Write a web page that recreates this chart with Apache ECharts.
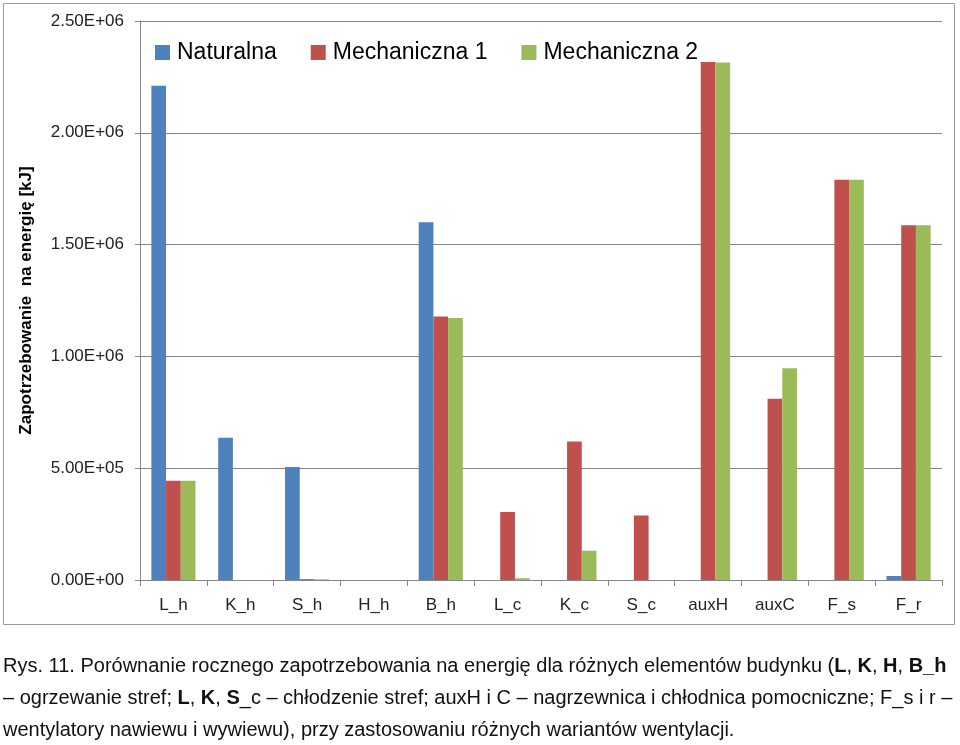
<!DOCTYPE html>
<html><head><meta charset="utf-8">
<script src="https://cdn.jsdelivr.net/npm/echarts@6/dist/echarts.min.js"></script>
<style>html,body{margin:0;padding:0;background:#fff}#c{width:960px;height:745px}</style>
</head><body><div id="c"></div>
<script>
const categories = ['L_h','K_h','S_h','H_h','B_h','L_c','K_c','S_c','auxH','auxC','F_s','F_r'];
const naturalna   = [2210000, 636000, 505000, 0, 1600000, 0, 0, 0, 0, 0, 0, 18000];
const mechaniczna1 = [444000, 0, 4000, 0, 1178000, 304000, 619000, 288000, 2317000, 811000, 1790000, 1586000];
const mechaniczna2 = [444000, 0, 3000, 0, 1172000, 8000, 131000, 0, 2314000, 947000, 1790000, 1586000];
const seriesNames = ['Naturalna','Mechaniczna 1','Mechaniczna 2'];
const yTicks = {min: 0, max: 2500000, interval: 500000};
const yTitle = 'Zapotrzebowanie  na energię [kJ]';

const FONT = '"Liberation Sans Narrow","Liberation Sans",Arial,sans-serif';
const colors = ['#4F81BD','#C0504D','#9BBB59'];
function fmt(v){
  const s = Number(v).toExponential(2).toUpperCase();
  const m = s.match(/^(.*)E([+-])(\d+)$/);
  return m[1] + 'E' + m[2] + (m[3].length < 2 ? '0' + m[3] : m[3]);
}
const chart = echarts.init(document.getElementById('c'));
const series = [naturalna, mechaniczna1, mechaniczna2].map((d,i)=>({
  name: seriesNames[i], type: 'bar', data: d, barGap: '0%', barCategoryGap: '34%',
  itemStyle: {color: colors[i]}
}));
chart.setOption({
  animation: false,
  color: colors,
  textStyle: {fontFamily: FONT},
  grid: {left: 140, right: 18, top: 21, bottom: 165},
  legend: {
    left: 150, top: 36, itemWidth: 15, itemHeight: 15, itemGap: 34,
    icon: 'rect',
    textStyle: {fontSize: 23, color: '#000', fontFamily: FONT, padding: [0,0,0,2]},
    data: seriesNames
  },
  xAxis: {
    type: 'category', data: categories,
    axisLine: {lineStyle: {color: '#868686', width: 1}},
    axisTick: {show: true, length: 6, lineStyle: {color: '#868686'}},
    axisLabel: {fontSize: 17, color: '#222', margin: 17, fontFamily: FONT}
  },
  yAxis: {
    type: 'value', min: yTicks.min, max: yTicks.max, interval: yTicks.interval,
    name: yTitle, nameLocation: 'middle', nameGap: 105, nameRotate: 90,
    nameTextStyle: {fontSize: 17, fontWeight: 'bold', color: '#000', fontFamily: FONT},
    axisLine: {show: true, lineStyle: {color: '#868686'}},
    axisTick: {show: true, length: 5, lineStyle: {color: '#868686'}},
    splitLine: {lineStyle: {color: '#868686', width: 1}},
    axisLabel: {fontSize: 17, color: '#222', margin: 16, formatter: fmt, fontFamily: FONT}
  },
  series: series,
  graphic: [
    {type: 'rect', shape: {x: 3.5, y: 3.5, width: 951, height: 621}, style: {fill: null, stroke: '#9a9a9a', lineWidth: 1}, silent: true, z: -1},
    {type: 'text', left: 3, top: 650, style: {
      text: 'Rys. 11. Porównanie rocznego zapotrzebowania na energię dla różnych elementów budynku ({b|L}, {b|K}, {b|H}, {b|B_h}\n– ogrzewanie stref; {b|L}, {b|K}, {b|S}_c – chłodzenie stref; auxH i C – nagrzewnica i chłodnica pomocniczne; F_s i r –\nwentylatory nawiewu i wywiewu), przy zastosowaniu różnych wariantów wentylacji.',
      font: '20px ' + FONT, fill: '#111', lineHeight: 32,
      rich: {b: {fontWeight: 'bold', fontSize: 20, fontFamily: FONT, fill: '#111', lineHeight: 32}}
    }}
  ]
});
</script></body></html>
